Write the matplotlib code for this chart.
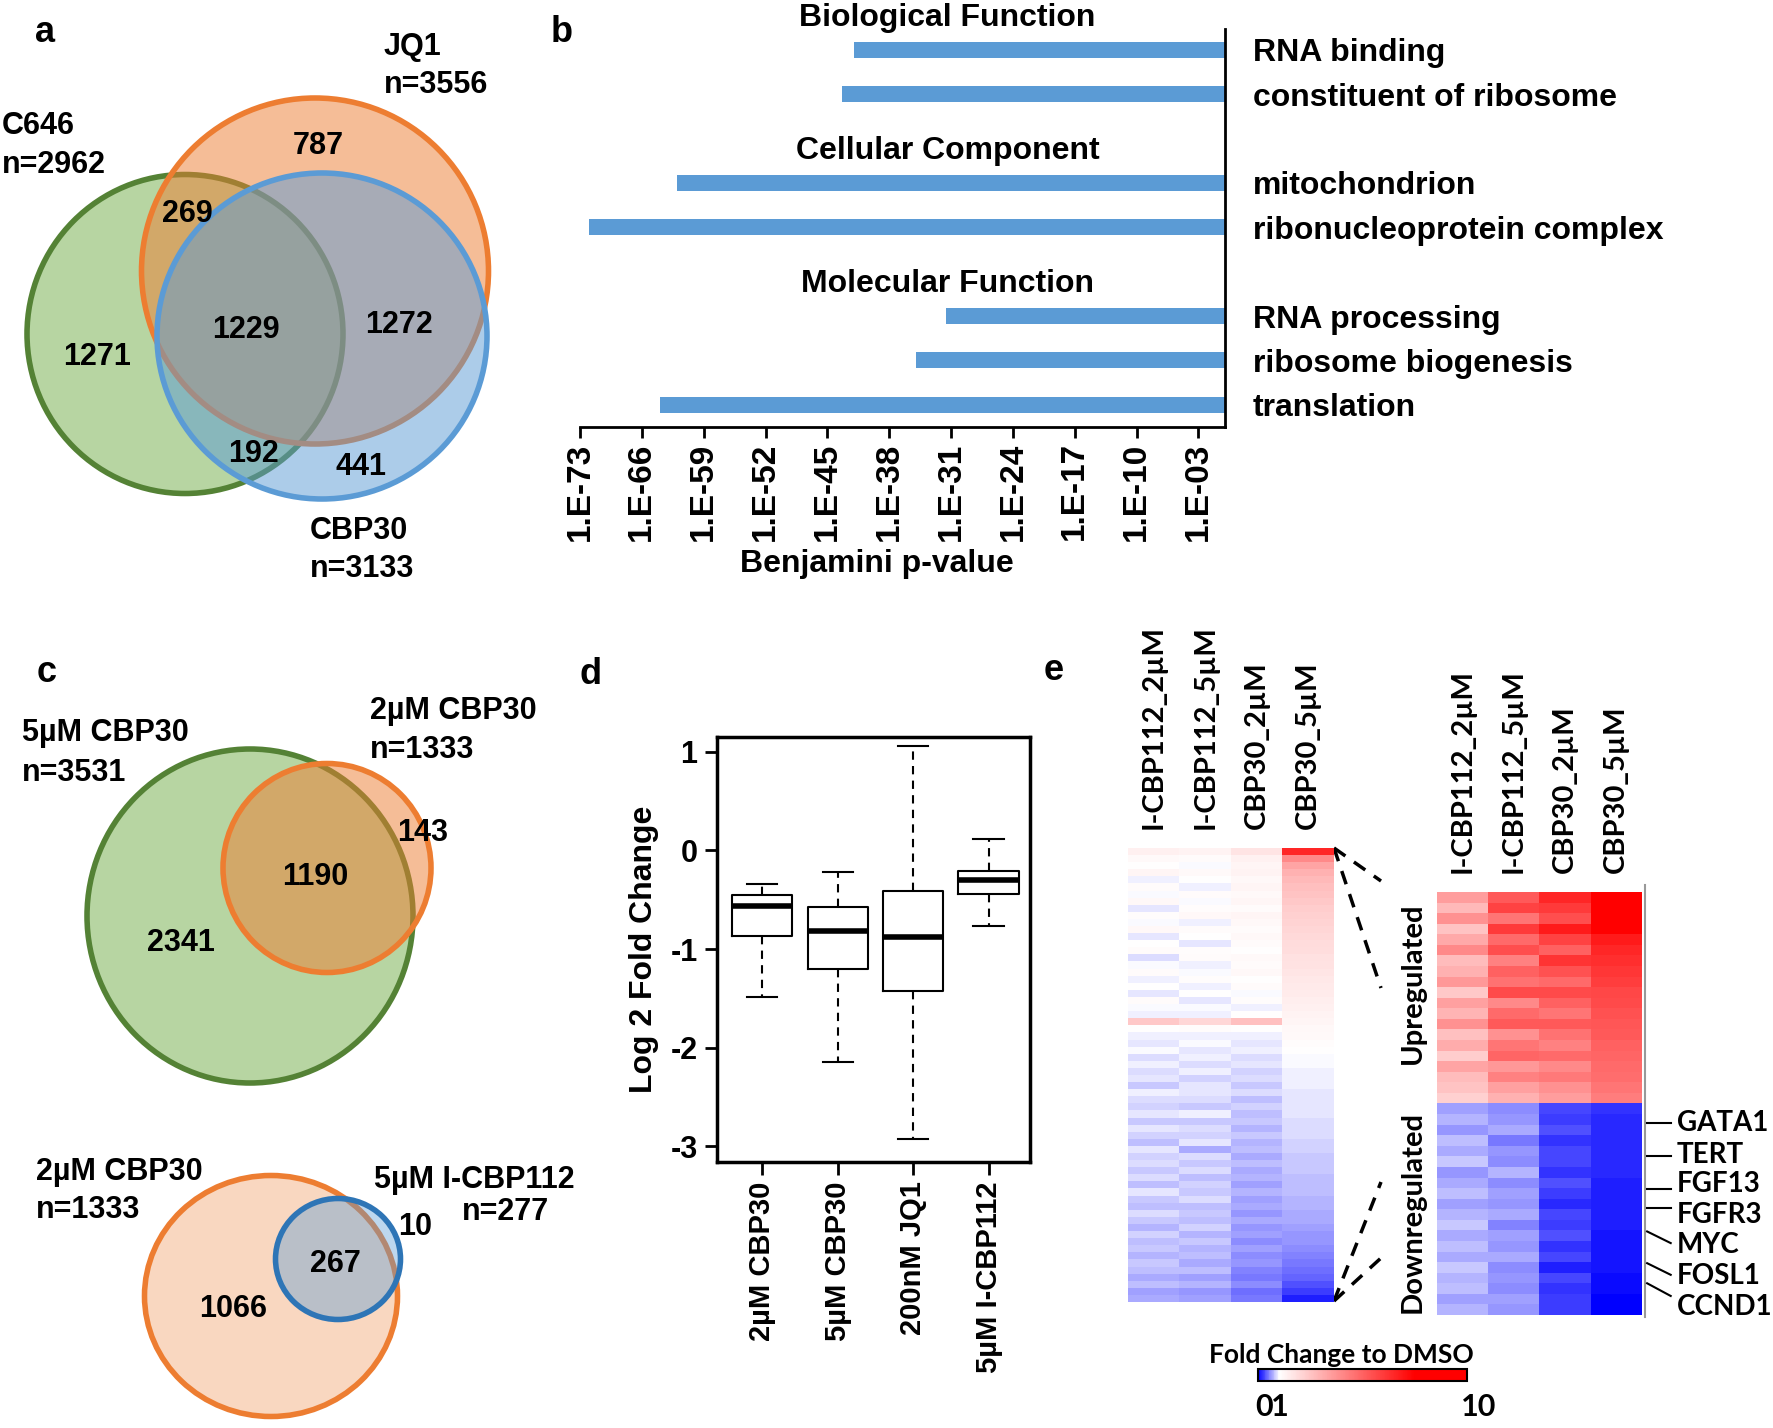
import numpy as np
import matplotlib
matplotlib.use("Agg")
import matplotlib.pyplot as plt
import matplotlib.transforms as mtrans
from matplotlib.patches import Ellipse
from matplotlib.colors import LinearSegmentedColormap, Normalize, to_rgba
from matplotlib.cm import ScalarMappable
from matplotlib.ticker import NullLocator

W, H = 1773, 1428
plt.rcParams['font.family'] = ['Liberation Sans', 'DejaVu Sans']
plt.rcParams['font.weight'] = 'bold'
plt.rcParams['axes.labelweight'] = 'bold'

# ---------------- data ----------------
# (a) three-way Venn
venn_a_names = ["C646", "JQ1", "CBP30"]
venn_a_totals = [2962, 3556, 3133]
venn_a_only = [1271, 787, 441]        # C646, JQ1, CBP30 only
venn_a_pairs = [269, 192, 1272]       # C646&JQ1, C646&CBP30, JQ1&CBP30
venn_a_all = 1229

# (b) GO enrichment
go_categories = ["Biological Function", "Cellular Component", "Molecular Function"]
go_terms = ["RNA binding", "constituent of ribosome", "mitochondrion",
            "ribonucleoprotein complex", "RNA processing", "ribosome biogenesis",
            "translation"]
go_group = [0, 0, 1, 1, 2, 2, 2]
go_pvalues = [1e-42, 5e-44, 1e-62, 1e-72, 3e-32, 1e-35, 1e-64]
go_tick_exps = [-73, -66, -59, -52, -45, -38, -31, -24, -17, -10, -3]

# (c) two-way Venns
venn_c1_names = ["5µM CBP30", "2µM CBP30"]
venn_c1_totals = [3531, 1333]
venn_c1_regions = [2341, 1190, 143]
venn_c2_names = ["2µM CBP30", "5µM I-CBP112"]
venn_c2_totals = [1333, 277]
venn_c2_regions = [1066, 267, 10]

# (d) box plot statistics
box_labels = ["2µM CBP30", "5µM CBP30", "200nM JQ1", "5µM I-CBP112"]
box_whislo = [-1.49, -2.15, -2.93, -0.77]
box_q1 = [-0.87, -1.20, -1.43, -0.44]
box_med = [-0.56, -0.82, -0.88, -0.30]
box_q3 = [-0.45, -0.57, -0.41, -0.21]
box_whishi = [-0.34, -0.22, 1.06, 0.12]

# (e) heatmaps (fold change to DMSO)
heat_columns = ["I-CBP112_2µM", "I-CBP112_5µM", "CBP30_2µM", "CBP30_5µM"]
left_c1 = [1.4, 1.15, 1.05, 1.25, 0.95, 1.1, 1.0, 1.2, 0.9, 1.08,
           1.0, 1.18, 0.92, 1.05, 1.1, 0.86, 1.0, 1.12, 0.95, 1.05,
           0.9, 1.1, 1.0, 0.95, 2.4, 1.05, 0.96, 0.9, 1.0, 0.88,
           0.94, 0.86, 0.92, 0.8, 0.95, 0.88, 0.84, 0.92, 0.8, 0.9,
           0.85, 0.78, 0.9, 0.83, 0.88, 0.8, 0.86, 0.76, 0.9, 0.82,
           0.78, 0.86, 0.8, 0.74, 0.84, 0.78, 0.82, 0.72, 0.8, 0.76,
           0.7, 0.78, 0.66, 0.7]
left_c2 = [1.3, 1.1, 1.0, 1.15, 1.05, 0.95, 1.12, 1.0, 1.08, 1.2,
           0.96, 1.1, 1.02, 0.9, 1.06, 1.12, 0.97, 1.0, 1.08, 0.94,
           1.05, 0.92, 1.0, 0.96, 2.0, 1.08, 0.94, 0.98, 0.9, 0.95,
           0.88, 0.96, 0.84, 0.92, 0.9, 0.86, 0.82, 0.94, 0.8, 0.88,
           0.84, 0.9, 0.7, 0.86, 0.82, 0.88, 0.78, 0.84, 0.8, 0.86,
           0.76, 0.82, 0.78, 0.84, 0.74, 0.8, 0.72, 0.78, 0.7, 0.76,
           0.66, 0.72, 0.6, 0.64]
left_c3 = [1.7, 1.35, 1.25, 1.3, 1.2, 1.28, 1.15, 1.22, 1.1, 1.25,
           1.18, 1.1, 1.2, 1.12, 1.05, 1.15, 1.1, 1.2, 1.05, 1.12,
           1.0, 1.08, 0.96, 1.02, 2.6, 1.05, 0.95, 0.9, 0.94, 0.86,
           0.9, 0.84, 0.88, 0.8, 0.86, 0.78, 0.84, 0.76, 0.82, 0.74,
           0.8, 0.72, 0.78, 0.7, 0.76, 0.68, 0.74, 0.66, 0.72, 0.64,
           0.7, 0.62, 0.68, 0.6, 0.66, 0.58, 0.64, 0.56, 0.6, 0.54,
           0.5, 0.56, 0.46, 0.5]
left_c4 = [6.5, 4.0, 3.3, 3.0, 2.8, 2.65, 2.5, 2.4, 2.3, 2.2,
           2.12, 2.05, 1.98, 1.9, 1.84, 1.78, 1.72, 1.66, 1.6, 1.55,
           1.5, 1.44, 1.38, 1.32, 1.26, 1.2, 1.14, 1.08, 1.03, 1.0,
           0.98, 0.96, 0.95, 0.94, 0.93, 0.92, 0.91, 0.9, 0.89, 0.88,
           0.86, 0.85, 0.84, 0.82, 0.81, 0.8, 0.78, 0.77, 0.75, 0.73,
           0.71, 0.69, 0.67, 0.65, 0.62, 0.6, 0.57, 0.54, 0.5, 0.46,
           0.41, 0.34, 0.25, 0.12]
right_c1 = [3.5, 2.8, 3.8, 2.5, 3.2, 4.0, 2.7, 3.0, 3.6, 2.4,
            3.4, 2.9, 3.8, 2.6, 3.1, 2.3, 3.3, 2.7, 2.5, 2.2,
            0.65, 0.72, 0.6, 0.75, 0.68, 0.8, 0.62, 0.7, 0.77, 0.66,
            0.74, 0.82, 0.7, 0.76, 0.68, 0.8, 0.72, 0.78, 0.66, 0.74]
right_c2 = [5.2, 5.8, 4.5, 6.0, 4.8, 5.5, 4.2, 5.0, 4.6, 5.6,
            4.0, 4.8, 5.2, 3.8, 4.5, 4.9, 3.6, 4.2, 3.4, 3.0,
            0.55, 0.6, 0.7, 0.5, 0.62, 0.58, 0.72, 0.55, 0.65, 0.6,
            0.68, 0.52, 0.64, 0.6, 0.7, 0.56, 0.62, 0.58, 0.66, 0.6]
right_c3 = [6.5, 6.0, 5.5, 6.8, 5.8, 5.0, 6.2, 5.4, 4.8, 5.6,
            5.0, 4.5, 5.2, 4.6, 4.2, 4.8, 4.0, 4.4, 3.8, 3.5,
            0.3, 0.25, 0.35, 0.22, 0.3, 0.28, 0.2, 0.32, 0.26, 0.18,
            0.3, 0.24, 0.35, 0.2, 0.28, 0.15, 0.3, 0.22, 0.27, 0.25]
right_c4 = [9.5, 9.0, 8.5, 7.5, 6.8, 6.5, 6.3, 6.1, 5.9, 5.7,
            5.6, 5.4, 5.3, 5.2, 5.0, 4.9, 4.8, 4.7, 4.5, 4.3,
            0.2, 0.19, 0.19, 0.18, 0.17, 0.17, 0.16, 0.15, 0.15, 0.14,
            0.13, 0.12, 0.11, 0.1, 0.09, 0.08, 0.06, 0.05, 0.03, 0.01]
genes = ["GATA1", "TERT", "FGF13", "FGFR3", "MYC", "FOSL1", "CCND1"]
gene_rows = [21.3, 24.5, 27.6, 29.4, 31.6, 34.6, 36.5]
cbar_ticks = [0, 1, 10]
cbar_ticklabels = ["0", "1", "10"]

# ---------------- layout helpers ----------------
fig = plt.figure(figsize=(W / 100, H / 100), dpi=100)
fig.patch.set_facecolor('white')
bg = fig.add_axes([0, 0, 1, 1])
bg.set_xlim(0, W)
bg.set_ylim(H, 0)
bg.axis('off')


def px_rect(x0, y0, x1, y1):
    return [x0 / W, 1 - y1 / H, (x1 - x0) / W, (y1 - y0) / H]


FS = 22
LATO = ['Lato', 'DejaVu Sans']


def txt(x, y, s, **kw):
    kw.setdefault('fontsize', FS)
    kw.setdefault('fontweight', 'bold')
    kw.setdefault('va', 'center')
    kw.setdefault('ha', 'left')
    bg.text(x, y, s, **kw)


def shape(cx, cy, w, h, face, alpha, edge, lw=4):
    bg.add_patch(Ellipse((cx, cy), w, h, facecolor=to_rgba(face, alpha),
                         edgecolor=edge, lw=lw))


# panel letters
for lab, (x, y) in zip("abcde", [(45, 33), (562, 32), (47, 672), (591, 674), (1054, 671)]):
    txt(x, y, lab, fontsize=26, ha='center')

# ---------------- (a) ----------------
shape(185, 334, 316, 319, '#70AD47', 0.5, '#548235')
shape(315, 271, 347, 346, '#ED7D31', 0.5, '#ED7D31')
shape(322, 336, 330, 326, '#5B9BD5', 0.5, '#5B9BD5')
txt(2, 126, venn_a_names[0]); txt(2, 165, f"n={venn_a_totals[0]}")
txt(384, 47, venn_a_names[1]); txt(384, 85, f"n={venn_a_totals[1]}")
txt(310, 531, venn_a_names[2]); txt(310, 569, f"n={venn_a_totals[2]}")
for v, (x, y) in zip(venn_a_only, [(97, 357), (318, 146), (361, 467)]):
    txt(x, y, str(v), ha='center')
for v, (x, y) in zip(venn_a_pairs, [(187, 214), (254, 454), (399, 325)]):
    txt(x, y, str(v), ha='center')
txt(246, 330, str(venn_a_all), ha='center')

# ---------------- (b) ----------------
ax_b = fig.add_axes(px_rect(580, 29, 1225, 427))
ax_b.patch.set_visible(False)
slots = [i + g for i, g in enumerate(go_group)]
ax_b.set_xscale('log')
ax_b.barh(slots, [1 - p for p in go_pvalues], left=go_pvalues, height=0.36,
          color='#5B9BD5')
ax_b.set_xlim(1e-73, 1)
ax_b.set_ylim(8.5, -0.47)
ax_b.set_xticks([10.0 ** e for e in go_tick_exps])
ax_b.set_xticklabels([f"1.E-{-e:02d}" for e in go_tick_exps], rotation=90,
                     fontsize=24, fontweight='bold')
ax_b.xaxis.set_minor_locator(NullLocator())
ax_b.tick_params(axis='x', length=8, width=2, pad=3)
ax_b.yaxis.tick_right()
ax_b.set_yticks(slots)
ax_b.set_yticklabels(go_terms, fontsize=23, fontweight='bold')
ax_b.tick_params(axis='y', length=0, pad=20)
for s in ['left', 'top']:
    ax_b.spines[s].set_visible(False)
for s in ['bottom', 'right']:
    ax_b.spines[s].set_linewidth(2)
blend_b = mtrans.blended_transform_factory(ax_b.transAxes, ax_b.transData)
for gi, name in enumerate(go_categories):
    first = min(s for s, g in zip(slots, go_group) if g == gi)
    ax_b.text(0.57, first - 0.72, name, transform=blend_b, ha='center',
              va='center', fontsize=23, fontweight='bold', clip_on=False)
ax_b.set_xlabel("Benjamini p-value", fontsize=23, labelpad=6)
ax_b.xaxis.label.set_x(0.46)

# ---------------- (c) ----------------
shape(250, 916, 326, 334, '#70AD47', 0.5, '#548235')
shape(327, 868, 208, 209, '#ED7D31', 0.5, '#ED7D31')
txt(22, 733, venn_c1_names[0]); txt(22, 773, f"n={venn_c1_totals[0]}")
txt(370, 711, venn_c1_names[1]); txt(370, 750, f"n={venn_c1_totals[1]}")
for v, (x, y) in zip(venn_c1_regions, [(181, 943), (315, 877), (423, 833)]):
    txt(x, y, str(v), ha='center')

shape(271, 1296, 253, 241, '#ED7D31', 0.3, '#ED7D31')
shape(338, 1259, 125, 121, '#5B9BD5', 0.4, '#2E75B6')
txt(36, 1172, venn_c2_names[0]); txt(36, 1210, f"n={venn_c2_totals[0]}")
txt(374, 1180, venn_c2_names[1]); txt(506, 1212, f"n={venn_c2_totals[1]}", ha='center')
for v, (x, y) in zip(venn_c2_regions, [(233, 1309), (335, 1264), (415, 1227)]):
    txt(x, y, str(v), ha='center')

# ---------------- (d) ----------------
ax_d = fig.add_axes(px_rect(717, 737, 1030, 1162))
ax_d.patch.set_visible(False)
stats = [dict(label=l, whislo=a, q1=b, med=c, q3=d, whishi=e, fliers=[])
         for l, a, b, c, d, e in zip(box_labels, box_whislo, box_q1, box_med,
                                      box_q3, box_whishi)]
ax_d.bxp(stats, positions=[1, 2, 3, 4], widths=0.8, showfliers=False,
         capwidths=0.4,
         boxprops=dict(lw=1.5, color='black'),
         medianprops=dict(lw=4, color='black'),
         whiskerprops=dict(lw=1.5, ls=(0, (4, 3)), color='black'),
         capprops=dict(lw=1.5, color='black'))
ax_d.set_xlim(0.4, 4.55)
ax_d.set_ylim(-3.16, 1.15)
ax_d.set_yticks([1, 0, -1, -2, -3])
ax_d.set_yticklabels(["1", "0", "-1", "-2", "-3"], fontsize=22, fontweight='bold')
ax_d.set_xticks([1, 2, 3, 4])
ax_d.set_xticklabels(box_labels, rotation=90, fontsize=21, fontweight='bold')
ax_d.tick_params(length=9, width=2, pad=5)
for s in ax_d.spines.values():
    s.set_linewidth(2.5)
ax_d.set_ylabel("Log 2 Fold Change", fontsize=23, labelpad=8)

# ---------------- (e) ----------------
cmap = LinearSegmentedColormap.from_list(
    'fc', [(0, '#0000ff'), (0.1, '#ffffff'), (0.75, '#ff0000'), (1, '#ff0000')])
norm = Normalize(0, 10)
left = np.column_stack([left_c1, left_c2, left_c3, left_c4])
right = np.column_stack([right_c1, right_c2, right_c3, right_c4])

ax_hl = fig.add_axes(px_rect(1128, 848, 1334, 1302))
ax_hr = fig.add_axes(px_rect(1437, 892, 1642, 1315))
for ax, data in [(ax_hl, left), (ax_hr, right)]:
    ax.imshow(data, aspect='auto', cmap=cmap, norm=norm, interpolation='nearest')
    ax.xaxis.tick_top()
    ax.set_xticks(range(4))
    ax.set_xticklabels(heat_columns, rotation=90, fontsize=21,
                       fontweight='bold', family=LATO)
    ax.set_yticks([])
    ax.tick_params(length=0, pad=14)
    for s in ax.spines.values():
        s.set_visible(False)

txt(1413, 983, "Upregulated", rotation=90, ha='center', fontsize=21, family=LATO)
txt(1413, 1212, "Downregulated", rotation=90, ha='center', fontsize=21, family=LATO)
bg.plot([1645, 1645], [885, 1317], color='#999999', lw=1.5)

blend_r = mtrans.blended_transform_factory(ax_hr.transAxes, ax_hr.transData)
slant = [0, 0, 0, 0, 1.1, 1.1, 1.2]
label_rows = [21.3, 24.4, 27.1, 30.0, 32.9, 35.8, 38.7]
for g, r, sl, lr in zip(genes, gene_rows, slant, label_rows):
    ax_hr.plot([1.025, 1.14], [r, r + sl], color='black', lw=1.5,
               transform=blend_r, clip_on=False)
    ax_hr.text(1.17, lr, g, transform=blend_r, ha='left', va='center',
               fontsize=20, fontweight='bold', family=LATO, clip_on=False)

dash = (0, (4, 3))
for (x0, y0), (x1, y1) in [((1334, 848), (1381, 881)), ((1334, 848), (1381, 988)),
                           ((1334, 1301), (1381, 1182)), ((1334, 1301), (1381, 1258))]:
    bg.plot([x0, x1], [y0, y1], color='black', lw=2.5, ls=dash)

cax = fig.add_axes(px_rect(1258, 1369, 1467, 1381))
cb = fig.colorbar(ScalarMappable(norm=norm, cmap=cmap), cax=cax,
                  orientation='horizontal', ticks=[])
cb.outline.set_linewidth(1.5)
blend_c = mtrans.blended_transform_factory(cax.transData, cax.transAxes)
for v, lab, dx in zip(cbar_ticks, cbar_ticklabels, [6, 1, 12]):
    cax.text(v, -2.2, lab, ha='center', va='center', fontsize=22,
             fontweight='bold', family=LATO,
             transform=blend_c + mtrans.ScaledTranslation(dx / 100, 0, fig.dpi_scale_trans))
txt(1341, 1355, "Fold Change to DMSO", ha='center', fontsize=19, family=LATO)

fig.savefig("out.png", dpi=100, facecolor='white')
